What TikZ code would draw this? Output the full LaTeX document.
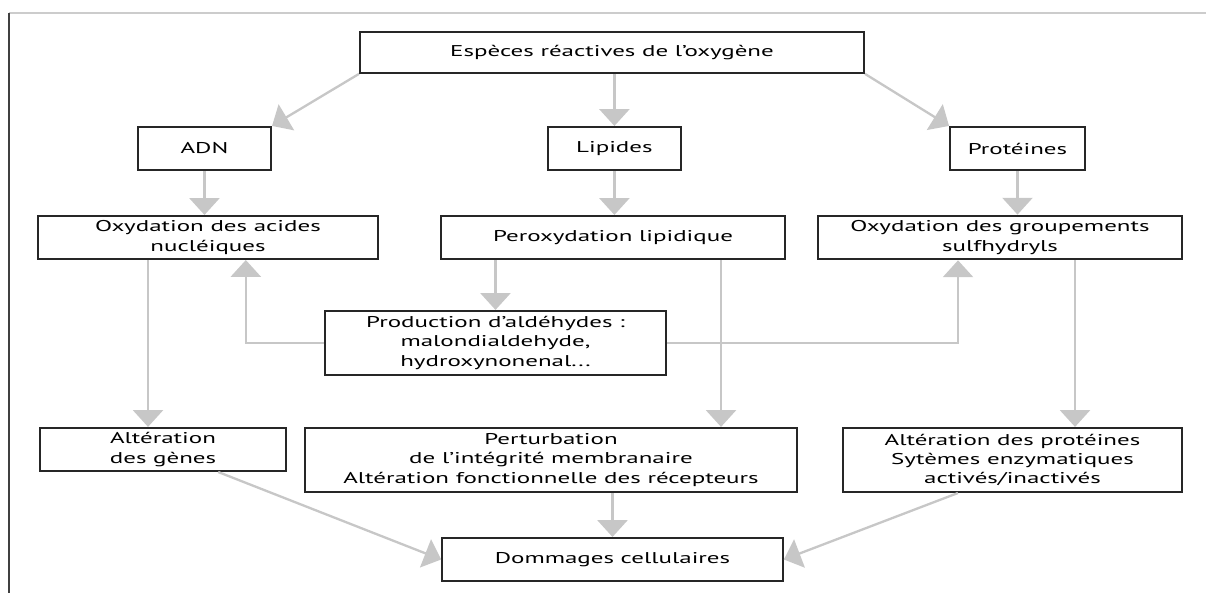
\documentclass[tikz,border=0pt]{standalone}
\usepackage{fontspec}
\setmainfont{PT Sans}[FakeStretch=1.6]
\usetikzlibrary{arrows.meta}

\begin{document}
\begin{tikzpicture}[
  >={Triangle[length=2.8mm,width=5mm]},
  every node/.style={font=\fontsize{7.4}{9.2}\selectfont},
  bx/.style={draw=black!85,line width=0.9pt,fill=white,align=center,inner sep=1pt},
  link/.style={->,draw=black!22,line width=1.1pt}
]
\useasboundingbox (0,0) rectangle (20.1,9.883);
\draw[black!20,line width=0.8pt] (0.15,9.667) -- (20.1,9.667);
\draw[black!75,line width=1pt] (0.15,9.667) -- (0.15,0);
\node[bx,minimum width=8.4cm,minimum height=6.8mm] (ero) at (10.2,9.008) {Espèces réactives de l'oxygène};
\node[bx,minimum width=2.22cm,minimum height=7.2mm] (adn) at (3.408,7.408) {ADN};
\node[bx,minimum width=2.22cm,minimum height=7.2mm] (lip) at (10.24,7.408) {Lipides};
\node[bx,minimum width=2.25cm,minimum height=7.2mm] (prot) at (16.958,7.408) {Protéines};
\node[bx,minimum width=5.67cm,minimum height=7.2mm] (oxa) at (3.467,5.925) {Oxydation des acides\\nucléiques};
\node[bx,minimum width=5.73cm,minimum height=7.2mm] (perox) at (10.217,5.925) {Peroxydation lipidique};
\node[bx,minimum width=6.07cm,minimum height=7.3mm] (oxg) at (16.667,5.925) {Oxydation des groupements\\sulfhydryls};
\node[bx,minimum width=5.68cm,minimum height=10.7mm] (prod) at (8.258,4.167) {Production d'aldéhydes :\\malondialdehyde,\\hydroxynonenal...};
\node[bx,minimum width=4.1cm,minimum height=7.2mm] (altg) at (2.717,2.392) {Altération\\des gènes};
\node[bx,minimum width=8.2cm,minimum height=10.7mm] (pert) at (9.183,2.217) {Perturbation\\de l'intégrité membranaire\\Altération fonctionnelle des récepteurs};
\node[bx,minimum width=5.65cm,minimum height=10.7mm] (altp) at (16.875,2.217) {Altération des protéines\\Sytèmes enzymatiques\\activés/inactivés};
\node[bx,minimum width=5.68cm,minimum height=7.2mm] (dom) at (10.208,0.558) {Dommages cellulaires};
% first level
\draw[link] (ero.south west) -- (adn.north east);
\draw[link] (ero.south -| lip) -- (lip);
\draw[link] (ero.south east) -- (prot.north west);
\draw[link] (adn) -- (adn |- oxa.north);
\draw[link] (lip) -- (lip |- perox.north);
\draw[link] (prot) -- (prot |- oxg.north);
% aldehydes
\draw[link] (perox.south -| prod) -- (prod);
\draw[link] (prod.west) -| ([xshift=6.3mm]oxa.south);
\draw[link] (prod.east) -| ([xshift=-7mm]oxg.south);
% consequences
\draw[link] ([xshift=-10mm]oxa.south) -- ([xshift=-10mm]oxa.south |- altg.north);
\draw[link] ([xshift=18mm]perox.south) -- ([xshift=18mm]perox.south |- pert.north);
\draw[link] ([xshift=12.5mm]oxg.south) -- ([xshift=12.5mm]oxg.south |- altp.north);
\draw[link] ([xshift=9.2mm]altg.south) -- (dom.west);
\draw[link] (pert.south -| dom) -- (dom);
\draw[link] ([xshift=-9.1mm]altp.south) -- (dom.east);
\end{tikzpicture}
\end{document}
